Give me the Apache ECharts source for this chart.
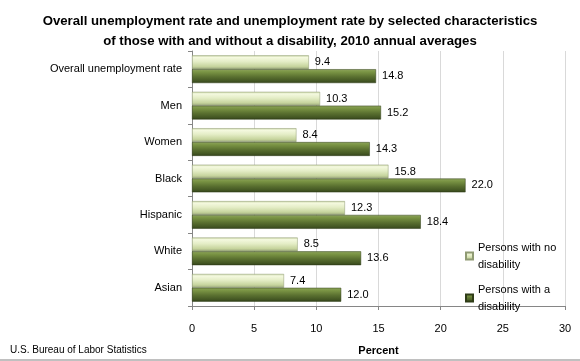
<!DOCTYPE html>
<html><head><meta charset="utf-8">
<script src="https://cdn.jsdelivr.net/npm/echarts@6/dist/echarts.min.js"></script>
<style>html,body{margin:0;padding:0;background:#fff}#c{width:580px;height:361px}</style>
</head><body><div id="c"></div>
<script>
var categories = ['Overall unemployment rate','Men','Women','Black','Hispanic','White','Asian'];
var noDisability = [9.4, 10.3, 8.4, 15.8, 12.3, 8.5, 7.4];
var withDisability = [14.8, 15.2, 14.3, 22.0, 18.4, 13.6, 12.0];
var seriesNames = ['Persons with no disability','Persons with a disability'];
var legendLabels = ['Persons with no\ndisability','Persons with a\ndisability'];
var xTicks = [0,5,10,15,20,25,30];

var font = 'Liberation Sans';
var chart = echarts.init(document.getElementById('c'));
var lightGrad = new echarts.graphic.LinearGradient(0,0,0,1,[
  {offset:0,color:'#c9d6a6'},{offset:0.15,color:'#f4f9df'},{offset:0.45,color:'#e4edc6'},
  {offset:0.8,color:'#c6d49d'},{offset:1,color:'#98a47a'}]);
var darkGrad = new echarts.graphic.LinearGradient(0,0,0,1,[
  {offset:0,color:'#8da45c'},{offset:0.2,color:'#7a9444'},{offset:0.55,color:'#5a7030'},
  {offset:0.85,color:'#435623'},{offset:1,color:'#33421a'}]);
chart.setOption({
  animation:false,
  title:{text:'Overall unemployment rate and unemployment rate by selected characteristics\nof those with and without a disability, 2010 annual averages',
    left:'center',top:6,textStyle:{fontFamily:font,fontWeight:'bold',fontSize:13.2,lineHeight:20,color:'#000'}},
  grid:{left:192,right:15,top:51,bottom:51},
  legend:{orient:'vertical',left:460,top:234,itemWidth:7,itemHeight:7,itemGap:8,icon:'rect',
    data:seriesNames,
    formatter:function(n){return legendLabels[seriesNames.indexOf(n)];},
    textStyle:{fontFamily:font,fontSize:11,color:'#000',lineHeight:17}},
  xAxis:{type:'value',min:xTicks[0],max:xTicks[xTicks.length-1],interval:5,
    name:'Percent',nameLocation:'middle',nameGap:39,
    nameTextStyle:{fontFamily:font,fontWeight:'bold',fontSize:11,color:'#000'},
    axisLine:{show:true,lineStyle:{color:'#868686'}},
    axisTick:{show:true,length:4,lineStyle:{color:'#868686'}},
    axisLabel:{fontFamily:font,fontSize:11,color:'#000',margin:17},
    splitLine:{show:true,lineStyle:{color:'#d9d9d9'}}},
  yAxis:{type:'category',data:categories,inverse:true,
    axisLine:{show:true,lineStyle:{color:'#868686'}},
    axisTick:{show:true,length:4,lineStyle:{color:'#868686'}},
    axisLabel:{fontFamily:font,fontSize:11,color:'#000',margin:10}},
  series:[
    {name:seriesNames[0],type:'bar',data:noDisability,barGap:'0%',barCategoryGap:'24%',
     itemStyle:{color:lightGrad,borderColor:'#8f9a73',borderWidth:0.5},
     label:{show:true,position:'right',distance:6,formatter:function(p){return p.value.toFixed(1);},
       fontFamily:font,fontSize:11,color:'#000'}},
    {name:seriesNames[1],type:'bar',data:withDisability,
     itemStyle:{color:darkGrad,borderColor:'#2f3c17',borderWidth:0.5},
     label:{show:true,position:'right',distance:6,formatter:function(p){return p.value.toFixed(1);},
       fontFamily:font,fontSize:11,color:'#000'}}
  ],
  graphic:[
    {type:'text',left:10,top:345,style:{text:'U.S. Bureau of Labor Statistics',fontFamily:font,fontSize:10,fill:'#000'}},
    {type:'rect',shape:{x:0,y:359,width:580,height:2},style:{fill:'#c0c0c0'}}
  ]
});
</script></body></html>
